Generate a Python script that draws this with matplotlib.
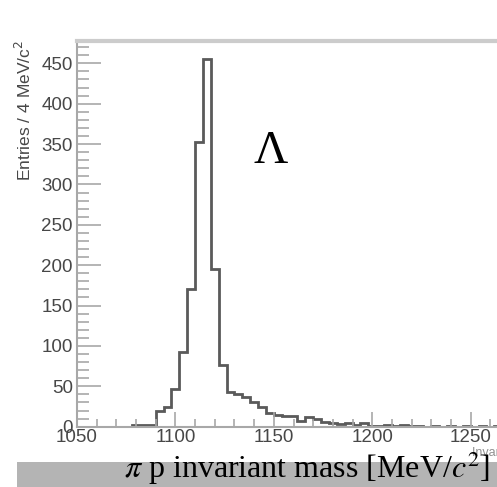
import matplotlib.pyplot as plt
import numpy as np
from matplotlib.ticker import MultipleLocator
from matplotlib.patches import Rectangle

# -----------------------------------------------------------------------------
# DATA  (pi p invariant mass, 4 MeV bins starting at 1050)
# -----------------------------------------------------------------------------
bin_lo = 1050
bin_width = 4
counts = [0, 0, 0, 0, 0, 0, 0,
          2, 2, 2,
          19, 24, 47, 93, 171, 352, 455, 195, 77,
          43, 40, 37, 31, 25, 17, 15, 13, 13, 7, 12, 9, 6, 4, 3, 5, 2, 4,
          1, 1, 2, 1, 2, 1, 1, 0, 1, 0, 1, 0, 1, 0, 1, 0, 1]
edges = bin_lo + bin_width * np.arange(len(counts) + 1)

x_ticks = [1050, 1100, 1150, 1200, 1250]
y_ticks = [0, 50, 100, 150, 200, 250, 300, 350, 400, 450]

# -----------------------------------------------------------------------------
# STYLE
# -----------------------------------------------------------------------------
W, H = 497, 487
AX_GREY = "#a8a8a8"
LINE_COL = "#5a5a5a"
LABEL_COL = "#474747"
SANS = ["Liberation Sans", "DejaVu Sans"]
SERIF = ["Liberation Serif", "DejaVu Serif"]

fig = plt.figure(figsize=(W / 100, H / 100), dpi=100)
ax = fig.add_axes([77 / W, (H - 426.7) / H, 1 - 77 / W + 0.001, (426.7 - 41) / H])

ax.stairs(counts, edges, color=LINE_COL, lw=2.0)

ax.set_xlim(1050, 1050 + 420 / 1.966)
ax.set_ylim(0, 477.6)

ax.set_xticks(x_ticks)
ax.set_yticks(y_ticks)
ax.xaxis.set_minor_locator(MultipleLocator(10))
ax.yaxis.set_minor_locator(MultipleLocator(10))
ax.tick_params(axis="y", which="major", direction="in", length=17, width=1.2, color=AX_GREY,
               labelsize=13.5, labelcolor=LABEL_COL, pad=3)
ax.tick_params(axis="y", which="minor", direction="in", length=8.5, width=1.2, color=AX_GREY)
ax.tick_params(axis="x", which="major", direction="in", length=11, width=1.2, color=AX_GREY,
               labelsize=13.5, labelcolor=LABEL_COL, pad=2)
ax.tick_params(axis="x", which="minor", direction="in", length=6, width=1.2, color=AX_GREY)
for lab in ax.get_xticklabels() + ax.get_yticklabels():
    lab.set_family(SANS)

ax.spines["right"].set_visible(False)
ax.spines["left"].set_color(AX_GREY)
ax.spines["left"].set_linewidth(1.5)
ax.spines["bottom"].set_color(AX_GREY)
ax.spines["bottom"].set_linewidth(1.5)
ax.spines["top"].set_color("#cccccc")
ax.spines["top"].set_linewidth(3)

# y axis title (ROOT style, right aligned at top)
fig.text(24 / W, 1 - 40 / H, r"Entries / 4 MeV/c$^2$", rotation=90, ha="center", va="top",
         fontsize=12.5, color=LABEL_COL, family=SANS)

# Lambda label
fig.text(271 / W, 1 - 152 / H, "Λ", ha="center", va="center",
         fontsize=34, family=SERIF, color="black")

# grey band at the bottom and the big axis title
fig.patches.append(Rectangle((17 / W, 0), 1, 25 / H, transform=fig.transFigure,
                             facecolor="#b4b4b4", edgecolor="none", zorder=0))
fig.text(472 / W, 1 - 453 / H, "Invariant mass", ha="left", va="center", fontsize=9,
         color="#909090", family=SANS)
fig.text(124 / W, 1 - 478 / H, r"$\pi$ p invariant mass [MeV/$c^2$]", ha="left", va="baseline",
         fontsize=23, color="black", family=SERIF, math_fontfamily="stix")

fig.savefig("out.png", dpi=100)
